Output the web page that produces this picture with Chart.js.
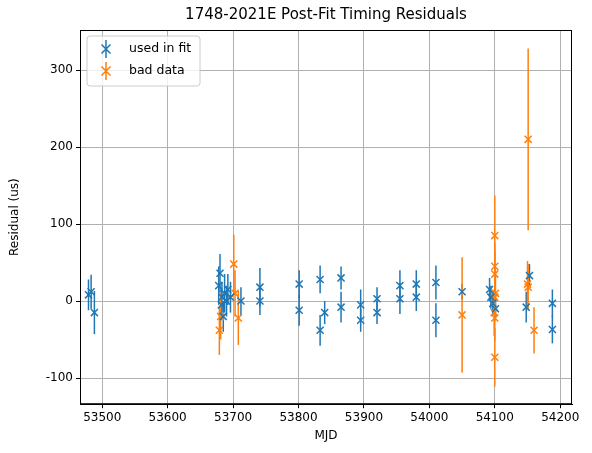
<!DOCTYPE html>
<html><head><meta charset="utf-8">
<script src="https://cdn.jsdelivr.net/npm/chart.js@4/dist/chart.umd.min.js"></script>
<style>html,body{margin:0;padding:0;background:#fff}#w{width:592px;height:453px}</style>
</head><body><div id="w"><canvas id="c"></canvas></div>
<script>
const fitMjd = [53479,53483,53488,53678,53680,53682,53683,53685,53687,53690,53692,53696,53712,53741,53741,53801,53801,53833,53833,53840,53865,53865,53895,53895,53920,53920,53955,53955,53980,53980,54010,54010,54050,54092,54094,54097,54101,54148,54153,54188,54188];
const fitRes = [8,12,-15,20,36,-5,5,-20,10,0,15,5,0,18,0,22,-12,28,-38,-15,30,-8,-5,-25,3,-15,20,3,22,5,24,-25,12,15,5,-3,-10,-8,33,-3,-37];
const fitErr = [20,22,28,25,25,20,20,20,25,20,20,20,18,25,18,18,20,18,20,15,15,20,20,15,15,15,20,20,18,18,22,22,10,15,15,15,15,20,15,18,18];
const badMjd = [53679,53681,53701,53703,53708,54050,54100,54100,54100,54101,54100,54099,54100,54100,54151,54150,54151,54160];
const badRes = [-38,-20,48,10,-22,-18,85,45,35,10,5,-15,-22,-73,210,22,18,-38];
const badErr = [32,30,38,30,35,75,52,30,30,30,30,30,30,38,118,30,30,30];
const xTicks = [53500,53600,53700,53800,53900,54000,54100,54200];
const yTicks = [-100,0,100,200,300];
const titleText = '1748-2021E Post-Fit Timing Residuals';

const mk = (x,y,e)=>x.map((v,i)=>({x:v,y:y[i],e:e[i]}));
const errPlugin = {id:'err', beforeDatasetsDraw(chart){
  const {ctx,scales:{x,y}} = chart;
  chart.data.datasets.forEach(ds=>{
    ctx.save(); ctx.strokeStyle=ds.borderColor; ctx.lineWidth=1.5;
    ds.data.forEach(p=>{const px=x.getPixelForValue(p.x);
      ctx.beginPath(); ctx.moveTo(px,y.getPixelForValue(p.y-p.e)); ctx.lineTo(px,y.getPixelForValue(p.y+p.e)); ctx.stroke();});
    ctx.restore();
  });
}, afterDraw(chart){
  const {ctx,chartArea:a} = chart;
  ctx.save(); ctx.strokeStyle='#000'; ctx.lineWidth=1; ctx.strokeRect(a.left+0.5,a.top+0.5,a.right-a.left-1,a.bottom-a.top-1);
  ctx.fillStyle='#000'; ctx.font='15px "DejaVu Sans"'; ctx.textAlign='center'; ctx.textBaseline='bottom';
  ctx.fillText(titleText,(a.left+a.right)/2,a.top-7);
  ctx.textAlign='left';
  const lx=a.left+7, ly=a.top+6, w=113, h=50;
  ctx.fillStyle='rgba(255,255,255,0.8)'; ctx.strokeStyle='#ccc';
  ctx.beginPath(); ctx.roundRect(lx,ly,w,h,3); ctx.fill(); ctx.stroke();
  ctx.font='12.5px "DejaVu Sans"'; ctx.textBaseline='middle';
  chart.data.datasets.forEach((ds,i)=>{
    const cy=ly+13+i*22, cx=lx+19;
    ctx.strokeStyle=ds.borderColor; ctx.lineWidth=1.5;
    ctx.beginPath(); ctx.moveTo(cx,cy-9); ctx.lineTo(cx,cy+9);
    ctx.moveTo(cx-4.5,cy-4.5); ctx.lineTo(cx+4.5,cy+4.5); ctx.moveTo(cx-4.5,cy+4.5); ctx.lineTo(cx+4.5,cy-4.5); ctx.stroke();
    ctx.fillStyle='#000'; ctx.fillText(ds.label,lx+42,cy);
  });
  ctx.restore();
}};
new Chart(document.getElementById('c'),{
  type:'scatter',
  data:{datasets:[
    {label:'used in fit',data:mk(fitMjd,fitRes,fitErr),borderColor:'#1f77b4',backgroundColor:'#1f77b4',pointStyle:'crossRot',pointRadius:5,borderWidth:1.5},
    {label:'bad data',data:mk(badMjd,badRes,badErr),borderColor:'#ff7f0e',backgroundColor:'#ff7f0e',pointStyle:'crossRot',pointRadius:5,borderWidth:1.5}
  ]},
  plugins:[errPlugin],
  options:{animation:false,responsive:true,maintainAspectRatio:false,
    layout:{padding:{left:8,right:20,top:30,bottom:6}},
    plugins:{title:{display:false},legend:{display:false},tooltip:{enabled:false}},
    scales:{
      x:{min:53466,max:54218,afterBuildTicks:a=>{a.ticks=xTicks.map(v=>({value:v}));},ticks:{callback:v=>String(v),color:'#000',font:{family:'DejaVu Sans',size:12},maxRotation:0,autoSkip:false,padding:2},
        grid:{color:'#b0b0b0',drawTicks:true,tickColor:'#000',tickLength:4},border:{color:'#000'},
        title:{display:true,text:'MJD',color:'#000',font:{family:'DejaVu Sans',size:12},padding:{top:2}}},
      y:{min:-134,max:352,afterBuildTicks:a=>{a.ticks=yTicks.map(v=>({value:v}));},afterFit:a=>{a.width=72;},ticks:{callback:v=>String(v),color:'#000',font:{family:'DejaVu Sans',size:12}},
        grid:{color:'#b0b0b0',tickColor:'#000',tickLength:4},border:{color:'#000'},
        title:{display:true,text:'Residual (us)',color:'#000',font:{family:'DejaVu Sans',size:12},padding:{top:0,bottom:0}}}
    }}
});
</script></body></html>
